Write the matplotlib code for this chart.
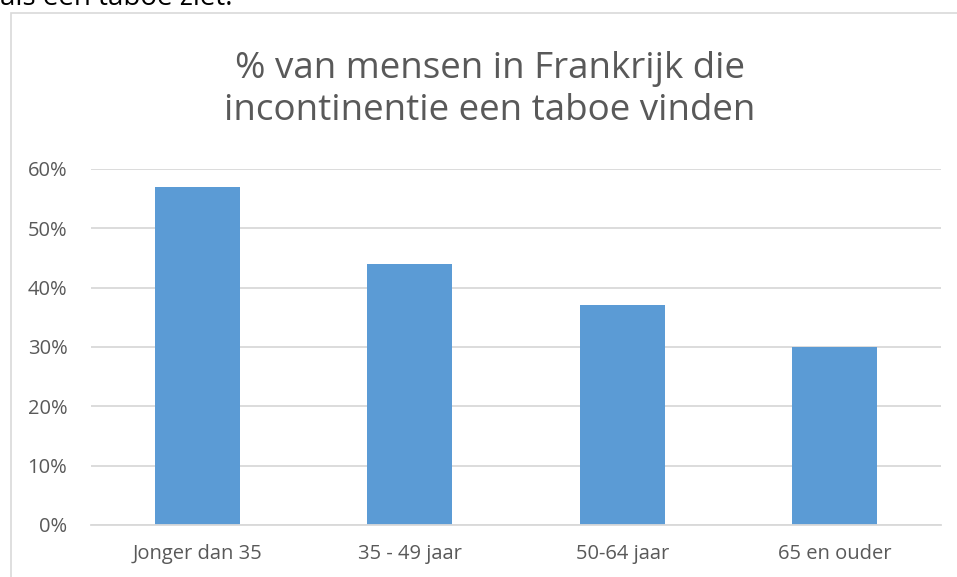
import matplotlib.pyplot as plt
from matplotlib.patches import Rectangle
from matplotlib.ticker import PercentFormatter

categories = ["Jonger dan 35", "35 - 49 jaar", "50-64 jaar", "65 en ouder"]
values = [0.57, 0.44, 0.37, 0.30]
title = "% van mensen in Frankrijk die\nincontinentie een taboe vinden"

W, H = 957, 577
fig = plt.figure(figsize=(W / 100, H / 100), dpi=100)
plt.rcParams['font.family'] = ['Open Sans', 'DejaVu Sans']

# chart frame (runs off the right/bottom of the image)
fig.patches.append(Rectangle((10.5 / W, -0.1), 1.2, 1 - 12.5 / H + 0.1,
                             transform=fig.transFigure, fill=False,
                             edgecolor='#d9d9d9', lw=1.2))

# cut-off line of body text above the chart
fig.text(0.0, 1 - 5 / H, "als een taboe ziet.", fontsize=20,
         color='#000000', va='baseline', ha='left')

ax = fig.add_axes([91 / W, (H - 525) / H, 850 / W, 356 / H])
ax.bar(range(len(categories)), values, width=0.4, color='#5b9bd5', zorder=2)
ax.set_xlim(-0.5, len(categories) - 0.5)
ax.set_ylim(0, 0.6)
ax.set_yticks([0, 0.1, 0.2, 0.3, 0.4, 0.5, 0.6])
ax.yaxis.set_major_formatter(PercentFormatter(1.0, decimals=0))
ax.set_xticks(range(len(categories)))
ax.set_xticklabels(categories)
ax.grid(axis='y', color='#d9d9d9', lw=1.3, zorder=0)
ax.set_axisbelow(True)
for s in ['top', 'right', 'left']:
    ax.spines[s].set_visible(False)
ax.spines['bottom'].set_color('#d9d9d9')
ax.spines['bottom'].set_linewidth(1.3)
ax.tick_params(axis='both', length=0, labelsize=14.5, colors='#595959')
ax.tick_params(axis='y', pad=17)
ax.tick_params(axis='x', pad=14)

fig.text(490 / W, 1 - 90 / H, title, ha='center', va='center',
         fontsize=26.5, color='#595959', linespacing=1.22)

fig.savefig('out.png', dpi=100)
